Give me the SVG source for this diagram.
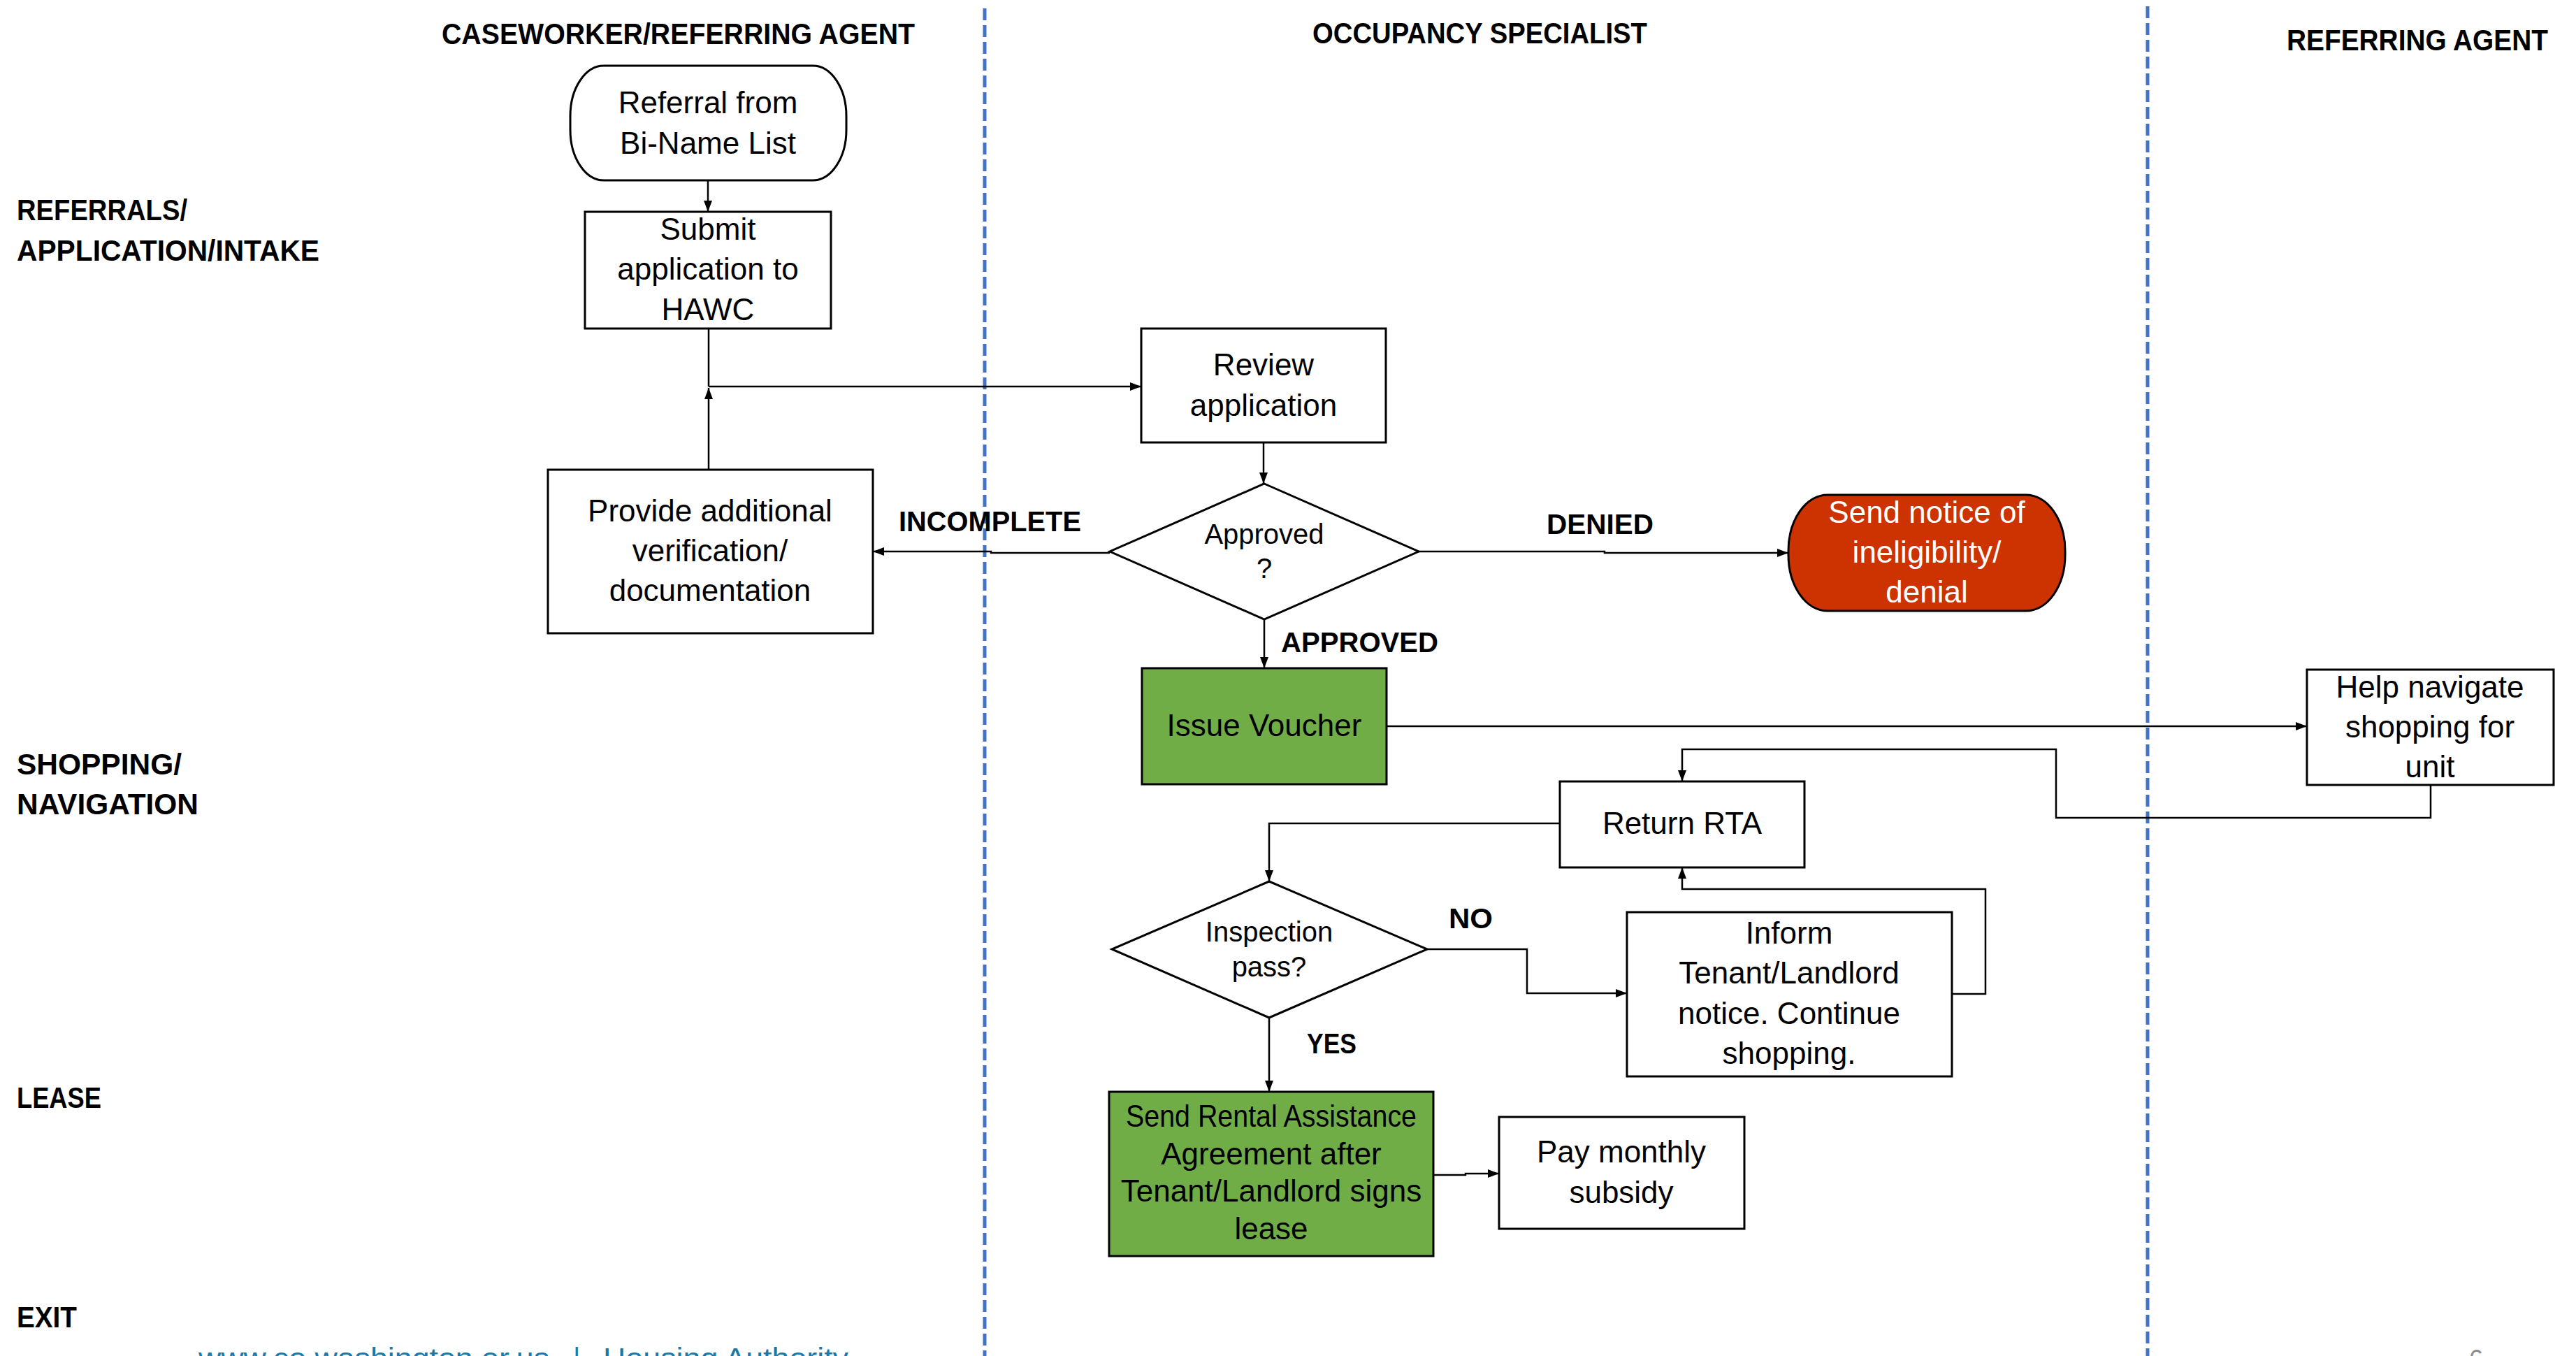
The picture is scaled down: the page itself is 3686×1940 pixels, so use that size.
<svg xmlns="http://www.w3.org/2000/svg" width="3686" height="1940" viewBox="0 0 3686 1940">
<style>
.lane{stroke:#4472C4;stroke-width:5;stroke-dasharray:17 7;fill:none}
.hdr{font-family:"Liberation Sans",Arial,sans-serif;font-weight:bold;font-size:43px;fill:#000}
.lbl{font-family:"Liberation Sans",Arial,sans-serif;font-weight:bold;font-size:41px;fill:#000}
.box{fill:#fff;stroke:#000;stroke-width:3}
.green{fill:#70AD47;stroke:#000;stroke-width:3}
.red{fill:#CC3300;stroke:#000;stroke-width:3}
.t{font-family:"Liberation Sans",Arial,sans-serif;font-size:44px;fill:#000;text-anchor:middle}
.ts{font-family:"Liberation Sans",Arial,sans-serif;font-size:40px;fill:#000;text-anchor:middle}
.tw{font-family:"Liberation Sans",Arial,sans-serif;font-size:44px;fill:#fff;text-anchor:middle}
.c{fill:none;stroke:#000;stroke-width:2.5}
.foot{font-family:"Liberation Sans",Arial,sans-serif;font-size:40px;fill:#1B78A8}
</style>
<defs>
<marker id="ah" markerUnits="userSpaceOnUse" markerWidth="16" markerHeight="12" refX="16" refY="6" orient="auto">
<path d="M0,0 L16,6 L0,12 z" fill="#000"/>
</marker>
</defs>
<rect width="3686" height="1940" fill="#fff"/>

<g id="lanes">
<line class="lane" x1="1409" y1="12" x2="1409" y2="1940"/>
<line class="lane" x1="3073" y1="9" x2="3073" y2="1940"/>
</g>

<g id="headers">
<text class="hdr" x="632" y="63" textLength="677" lengthAdjust="spacingAndGlyphs">CASEWORKER/REFERRING AGENT</text>
<text class="hdr" x="1878" y="62" textLength="479" lengthAdjust="spacingAndGlyphs">OCCUPANCY SPECIALIST</text>
<text class="hdr" x="3272" y="72" textLength="374" lengthAdjust="spacingAndGlyphs">REFERRING AGENT</text>
</g>

<g id="stages">
<text class="hdr" x="24" y="315" textLength="244" lengthAdjust="spacingAndGlyphs">REFERRALS/</text>
<text class="hdr" x="24" y="373" textLength="433" lengthAdjust="spacingAndGlyphs">APPLICATION/INTAKE</text>
<text class="hdr" x="24" y="1108" textLength="236" lengthAdjust="spacingAndGlyphs">SHOPPING/</text>
<text class="hdr" x="24" y="1165" textLength="260" lengthAdjust="spacingAndGlyphs">NAVIGATION</text>
<text class="hdr" x="24" y="1585" textLength="121" lengthAdjust="spacingAndGlyphs">LEASE</text>
<text class="hdr" x="24" y="1899" textLength="86" lengthAdjust="spacingAndGlyphs">EXIT</text>
</g>

<g id="connectors">
<path class="c" d="M1013,258 V303" marker-end="url(#ah)"/>
<path class="c" d="M1014,470 V553"/>
<path class="c" d="M1014,672 V555" marker-end="url(#ah)"/>
<path class="c" d="M1014,553 H1633" marker-end="url(#ah)"/>
<path class="c" d="M1808,633 V692" marker-end="url(#ah)"/>
<path class="c" d="M1588,791 H1418 V789 H1249" marker-end="url(#ah)"/>
<path class="c" d="M2030,789 H2296 V791 H2559" marker-end="url(#ah)"/>
<path class="c" d="M1809,886 V956" marker-end="url(#ah)"/>
<path class="c" d="M1984,1039 H3301" marker-end="url(#ah)"/>
<path class="c" d="M3478,1123 V1170 H2942 V1072 H2407 V1118" marker-end="url(#ah)"/>
<path class="c" d="M2232,1178 H1816 V1261" marker-end="url(#ah)"/>
<path class="c" d="M2042,1358 H2185 V1421 H2328" marker-end="url(#ah)"/>
<path class="c" d="M2793,1422 H2841 V1272 H2407 V1241" marker-end="url(#ah)"/>
<path class="c" d="M1816,1456 V1562" marker-end="url(#ah)"/>
<path class="c" d="M2051,1681 H2097 V1679 H2145" marker-end="url(#ah)"/>
</g>

<g id="connector-labels">
<text class="lbl" x="1286" y="760" textLength="261" lengthAdjust="spacingAndGlyphs">INCOMPLETE</text>
<text class="lbl" x="2213" y="764" textLength="153" lengthAdjust="spacingAndGlyphs">DENIED</text>
<text class="lbl" x="1833" y="933" textLength="225" lengthAdjust="spacingAndGlyphs">APPROVED</text>
<text class="lbl" x="2073" y="1328" textLength="63" lengthAdjust="spacingAndGlyphs">NO</text>
<text class="lbl" x="1870" y="1507" textLength="71" lengthAdjust="spacingAndGlyphs">YES</text>
</g>

<g id="referral">
<rect class="box" x="816" y="94" width="395" height="164" rx="48" ry="72"/>
<text class="t" x="1013" y="162">Referral from</text>
<text class="t" x="1013" y="220">Bi-Name List</text>
</g>

<g id="submit">
<rect class="box" x="837" y="303" width="352" height="167"/>
<text class="t" x="1013" y="343">Submit</text>
<text class="t" x="1013" y="400">application to</text>
<text class="t" x="1013" y="458">HAWC</text>
</g>

<g id="review">
<rect class="box" x="1633" y="470" width="350" height="163"/>
<text class="t" x="1808" y="537">Review</text>
<text class="t" x="1808" y="595">application</text>
</g>

<g id="provide">
<rect class="box" x="784" y="672" width="465" height="234"/>
<text class="t" x="1016" y="746">Provide additional</text>
<text class="t" x="1016" y="803">verification/</text>
<text class="t" x="1016" y="860">documentation</text>
</g>

<g id="approved">
<polygon class="box" points="1809,692 2030,789 1809,886 1588,789"/>
<text class="ts" x="1809" y="778">Approved</text>
<text class="ts" x="1809" y="827">?</text>
</g>

<g id="denial">
<rect class="red" x="2559" y="708" width="396" height="166" rx="56" ry="80"/>
<text class="tw" x="2757" y="748">Send notice of</text>
<text class="tw" x="2757" y="805">ineligibility/</text>
<text class="tw" x="2757" y="862">denial</text>
</g>

<g id="voucher">
<rect class="green" x="1634" y="956" width="350" height="166"/>
<text class="t" x="1809" y="1053">Issue Voucher</text>
</g>

<g id="navigate">
<rect class="box" x="3301" y="958" width="353" height="165"/>
<text class="t" x="3477" y="998">Help navigate</text>
<text class="t" x="3477" y="1055">shopping for</text>
<text class="t" x="3477" y="1112">unit</text>
</g>

<g id="return-rta">
<rect class="box" x="2232" y="1118" width="350" height="123"/>
<text class="t" x="2407" y="1193">Return RTA</text>
</g>

<g id="inspection">
<polygon class="box" points="1816,1261 2042,1358 1816,1456 1591,1358"/>
<text class="ts" x="1816" y="1347">Inspection</text>
<text class="ts" x="1816" y="1397">pass?</text>
</g>

<g id="inform">
<rect class="box" x="2328" y="1305" width="465" height="235"/>
<text class="t" x="2560" y="1350">Inform</text>
<text class="t" x="2560" y="1407">Tenant/Landlord</text>
<text class="t" x="2560" y="1465">notice. Continue</text>
<text class="t" x="2560" y="1522">shopping.</text>
</g>

<g id="rental-agreement">
<rect class="green" x="1587" y="1562" width="464" height="235"/>
<text class="t" x="1819" y="1612" font-size="41" textLength="416" lengthAdjust="spacingAndGlyphs">Send Rental Assistance</text>
<text class="t" x="1819" y="1666" font-size="41">Agreement after</text>
<text class="t" x="1819" y="1719" font-size="41">Tenant/Landlord signs</text>
<text class="t" x="1819" y="1773" font-size="41">lease</text>
</g>

<g id="subsidy">
<rect class="box" x="2145" y="1598" width="351" height="160"/>
<text class="t" x="2320" y="1663">Pay monthly</text>
<text class="t" x="2320" y="1721">subsidy</text>
</g>

<g id="footer">
<text class="foot" y="1957"><tspan x="284" textLength="502" lengthAdjust="spacingAndGlyphs">www.co.washington.or.us</tspan><tspan x="820">|</tspan><tspan x="863" textLength="351" lengthAdjust="spacingAndGlyphs">Housing Authority</tspan></text>
<text x="3533" y="1957" font-family="Liberation Sans, Arial, sans-serif" font-size="36" fill="#8C8C8C">6</text>
</g>
</svg>
